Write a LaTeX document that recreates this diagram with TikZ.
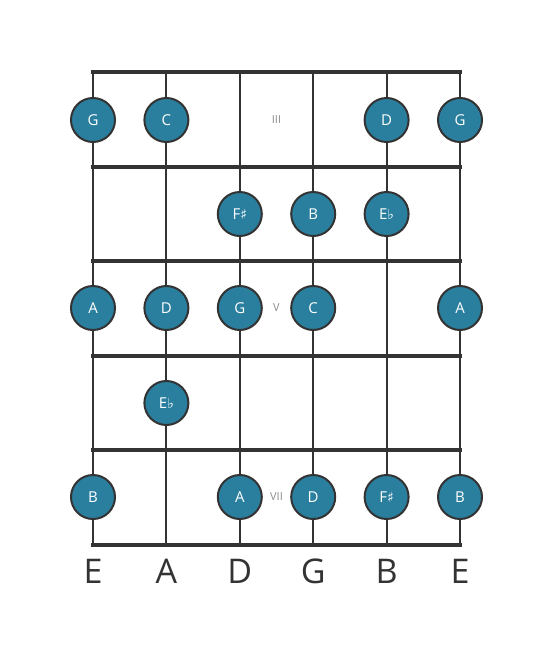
\documentclass[tikz,border=0pt]{standalone}
\usepackage{fontspec}
\setmainfont{Open Sans}
\newfontfamily\symfont{DejaVu Sans}
\usetikzlibrary{positioning}
\definecolor{notefill}{RGB}{42,127,158}
\definecolor{wire}{RGB}{51,51,51}
\newcommand{\shp}{{\symfont\fontsize{14}{14}\selectfont ♯}}
\newcommand{\flt}{{\symfont\fontsize{14}{14}\selectfont ♭}}

\begin{document}
\begin{tikzpicture}[x=1pt, y=-1pt,
    every node/.style={inner sep=0pt},
    note/.style={circle, draw=wire, line width=2pt, fill=notefill, minimum size=44pt,
                 text=white, font=\fontsize{15}{15}\selectfont},
    fretmark/.style={text=gray!90, font=\fontsize{11}{11}\selectfont},
    strname/.style={text=wire, font=\fontsize{34}{34}\selectfont}]

\useasboundingbox (0,0) rectangle (553,656);

% strings
\foreach \s/\x in {1/93, 2/166.4, 3/239.8, 4/313.2, 5/386.6, 6/460} {
    \coordinate (top\s) at (\x,72);
    \coordinate (bot\s) at (\x,545);
    \draw[wire, line width=2pt] (top\s) -- (bot\s);
}

% frets
\foreach \f/\y in {0/72, 1/166.6, 2/261.2, 3/355.8, 4/450.4, 5/545} {
    \draw[wire, line width=4pt] (91,\y) -- (462,\y);
}

% fret markers
\node[fretmark] (m3) at (276.5,120) {III};
\node[fretmark] (m5) at (276.5,308) {V};
\node[fretmark] (m7) at (276.5,497) {VII};

% notes, fret III
\node[note] (n11) at (93,120) {G};
\node[note] (n12) at (166.4,120) {C};
\node[note] (n15) at (386.6,120) {D};
\node[note] (n16) at (460,120) {G};

% fret IV
\node[note] (n23) at (239.8,214) {F\shp};
\node[note] (n24) at (313.2,214) {B};
\node[note] (n25) at (386.6,214) {E\flt};

% fret V
\node[note] (n31) at (93,308) {A};
\node[note] (n32) at (166.4,308) {D};
\node[note] (n33) at (239.8,308) {G};
\node[note] (n34) at (313.2,308) {C};
\node[note] (n36) at (460,308) {A};

% fret VI
\node[note] (n42) at (166.4,403) {E\flt};

% fret VII
\node[note] (n51) at (93,497) {B};
\node[note] (n53) at (239.8,497) {A};
\node[note] (n54) at (313.2,497) {D};
\node[note] (n55) at (386.6,497) {F\shp};
\node[note] (n56) at (460,497) {B};

% string names
\foreach \s/\n in {1/E, 2/A, 3/D, 4/G, 5/B, 6/E} {
    \node[strname, below=14pt of bot\s] (name\s) {\n};
}
\end{tikzpicture}
\end{document}
